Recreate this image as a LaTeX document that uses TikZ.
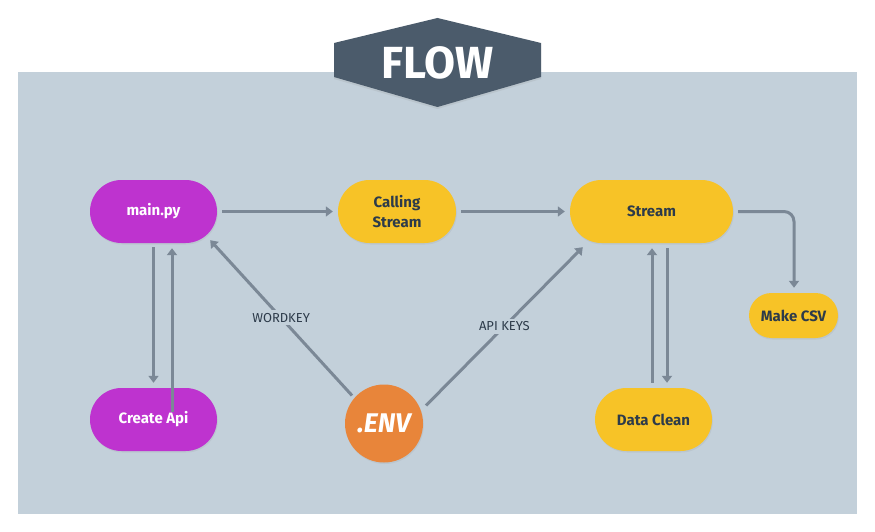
\documentclass[tikz,border=0pt]{standalone}
\usepackage{fontspec}
\setmainfont{Fira Sans}
\usetikzlibrary{arrows.meta,calc,shadows}
\definecolor{panel}{HTML}{C3D0DA}
\definecolor{hexc}{HTML}{4B5B6B}
\definecolor{magc}{HTML}{BE33CF}
\definecolor{yelc}{HTML}{F7C327}
\definecolor{orac}{HTML}{E8853A}
\definecolor{arrc}{HTML}{7B8896}
\definecolor{darkc}{HTML}{2D3B4A}
\tikzset{
  pill/.style={rectangle, inner sep=0pt, font=\bfseries\fontsize{15}{17}\selectfont, align=center,
    drop shadow={opacity=0.12, shadow xshift=0.8pt, shadow yshift=-1.5pt}},
  magpill/.style={pill, fill=magc, text=white, minimum width=127pt, minimum height=63pt, rounded corners=31.5pt},
  yelpill/.style={pill, fill=yelc, text=darkc, minimum height=63pt, rounded corners=31.5pt},
  arr/.style={draw=arrc, line width=3pt, -{Triangle[width=10pt,length=7pt]}},
  lbl/.style={fill=panel, text=darkc, inner sep=3pt, font=\fontsize{13}{15}\selectfont}
}
\begin{document}
\begin{tikzpicture}[x=1pt,y=-1pt]
\useasboundingbox (0,0) rectangle (875,532);
\fill[white] (0,0) rectangle (875,532);
\fill[panel] (18,72) rectangle (857,514);
\fill[hexc, drop shadow={opacity=0.15, shadow xshift=0pt, shadow yshift=-2pt}] (334,43) -- (437.5,18) -- (541,43) -- (541,77) -- (437.5,107) -- (334,77) -- cycle;
\node[text=white, font=\bfseries\fontsize{45}{48}\selectfont, inner sep=0pt] (flow) at (437.5,63) {FLOW};

\node[magpill] (main) at (153.5,211.5) {main.py};
\node[yelpill, minimum width=118pt] (calling) at (397,211.5) {Calling\\[3pt]Stream};
\node[yelpill, minimum width=163pt] (stream) at (651.5,211.5) {Stream};
\node[pill, fill=yelc, text=darkc, minimum width=89pt, minimum height=45pt, rounded corners=22.5pt] (csv) at (793.5,315.5) {Make CSV};
\node[magpill] (create) at (153.5,419.5) {Create Api};
\node[yelpill, minimum width=117pt] (dc) at (653.5,419.5) {Data Clean};
\node[circle, fill=orac, text=white, minimum size=78pt, inner sep=0pt,
  font=\bfseries\itshape\fontsize{27}{30}\selectfont,
  drop shadow={opacity=0.12, shadow xshift=0.8pt, shadow yshift=-1.5pt}] (env) at (384,423.5) {.ENV};

\draw[arr] ($(main.east)+(5,0)$) -- ($(calling.west)+(-5,0)$);
\draw[arr] ($(calling.east)+(5,0)$) -- ($(stream.west)+(-5,0)$);
\draw[arr, rounded corners=10pt] ($(stream.east)+(5,0)$) -| ($(csv.north)+(0.5,-5)$);
\draw[arr] ($(main.south)+(0,4)$) -- ($(create.north)+(0,-5)$);
\draw[arr] ($(create.north)+(18.5,24)$) -- ($(main.south)+(18.5,5)$);
\draw[arr] ($(dc.north)+(-1.5,-5)$) -- ($(stream.south)+(0.5,5)$);
\draw[arr] ($(stream.south)+(15.5,5)$) -- ($(dc.north)+(13.5,-5)$);
\draw[arr] ($(env.center)+(-32,-28)$) -- node[lbl] {WORDKEY} ($(main.south east)+(-7,-3)$);
\draw[arr] ($(env.center)+(42,-18)$) -- node[lbl] {API KEYS} ($(stream.south west)+(13,4)$);
\end{tikzpicture}
\end{document}
